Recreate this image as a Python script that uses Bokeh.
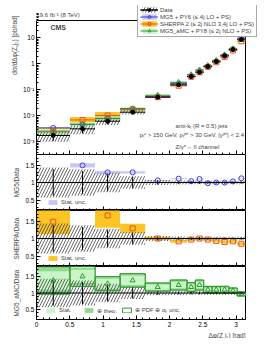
from bokeh.plotting import figure
from bokeh.layouts import column
from bokeh.models import (FixedTicker, CustomJSTickFormatter, Legend, LegendItem,
                          Title, Label, Span, Range1d)
from bokeh.embed import file_html
from bokeh.resources import INLINE

FONT = "Liberation Sans"

# ---------------- data ----------------
bin_edges = [0.0, 0.503, 0.880, 1.257, 1.634, 2.011, 2.262, 2.388, 2.513, 2.639, 2.765, 2.890, 3.016, 3.142]
data_xsec = [1.78e-3, 3.2e-3, 6.3e-3, 0.014, 0.053, 0.158, 0.33, 0.48, 0.80, 1.25, 2.07, 3.6, 8.8]
data_stat = [0.38, 0.33, 0.25, 0.17, 0.06, 0.04, 0.04, 0.04, 0.03, 0.03, 0.03, 0.03, 0.03]
data_tot = [0.43, 0.38, 0.28, 0.18, 0.07, 0.06, 0.05, 0.05, 0.05, 0.05, 0.05, 0.05, 0.05]

mg5_ratio = [1.95, 1.49, 1.29, 1.29, 1.06, 1.11, 1.04, 1.10, 0.98, 1.00, 1.00, 1.03, 1.12]
mg5_stat = [0.08, 0.06, 0.04, 0.03, 0.015, 0.015, 0.015, 0.015, 0.01, 0.01, 0.01, 0.01, 0.01]

sherpa_ratio = [1.48, 2.20, 1.66, 1.29, 1.00, 0.92, 0.97, 1.00, 0.97, 0.93, 0.90, 0.92, 0.85]
sherpa_stat = [0.36, 0.30, 0.35, 0.13, 0.05, 0.04, 0.04, 0.04, 0.04, 0.04, 0.04, 0.04, 0.04]

amc_ratio = [1.38, 1.50, 1.28, 1.38, 1.18, 1.24, 1.18, 1.24, 1.10, 1.10, 1.10, 1.07, 0.97]
amc_stat = [0.28, 0.20, 0.15, 0.14, 0.08, 0.10, 0.08, 0.10, 0.06, 0.06, 0.06, 0.05, 0.03]
amc_theo = [0.38, 0.27, 0.19, 0.18, 0.11, 0.13, 0.11, 0.13, 0.08, 0.08, 0.08, 0.07, 0.05]
amc_pdf = [0.41, 0.30, 0.21, 0.20, 0.12, 0.15, 0.13, 0.15, 0.10, 0.10, 0.10, 0.08, 0.06]

x_ticks = [0, 0.5, 1, 1.5, 2, 2.5, 3]
y_main_ticks = [1e-3, 1e-2, 1e-1, 1, 10]
y_ratio_ticks = [0.5, 1, 1.5]

# axis extents
X_MAX = 3.1416
Y_MAIN_MIN, Y_MAIN_MAX = 3.3e-4, 47.1

# colours
MG5_C, MG5_BAND = "#3a3ae6", "#c8c8f4"
SH_C, SH_BAND = "#e8541e", "#fcc526"
AMC_C, AMC_STAT, AMC_THEO = "#2e9a2e", "#c9f5c9", "#92d892"
HATCH_C = "#444444"

left = bin_edges[:-1]
right = bin_edges[1:]
mid = [(a + b) / 2 for a, b in zip(left, right)]

fmt_plain = CustomJSTickFormatter(code="return String(Math.round(tick*10)/10);")
fmt_empty = CustomJSTickFormatter(code="return '';")
fmt_log = CustomJSTickFormatter(code="""
const sup = {"-":"\u207b","0":"\u2070","1":"\u00b9","2":"\u00b2","3":"\u00b3","4":"\u2074"};
const e = Math.round(Math.log10(tick));
if (e == 0) return "1";
if (e == 1) return "10";
return "10" + String(e).split("").map(c => sup[c]).join("");
""")

HATCH = dict(fill_alpha=0, line_alpha=0, hatch_pattern="/", hatch_color=HATCH_C,
             hatch_scale=6, hatch_weight=0.8)


def style_axes(p, xlabels, ylog):
    p.xgrid.visible = False
    p.ygrid.visible = False
    p.background_fill_color = "white"
    p.border_fill_color = "white"
    for ax in p.axis:
        ax.major_tick_out = 0
        ax.major_tick_in = 4
        ax.minor_tick_out = 0
        ax.minor_tick_in = 2
        ax.axis_line_color = "black"
        ax.major_tick_line_color = "black"
        ax.minor_tick_line_color = "black"
        ax.major_label_text_font = FONT
        ax.major_label_text_font_size = "6.5px"
        ax.major_label_text_color = "black"
        ax.major_label_standoff = 2
    p.xaxis.ticker = FixedTicker(ticks=x_ticks, minor_ticks=[i / 10 for i in range(32)])
    if xlabels:
        p.xaxis.formatter = fmt_plain
    else:
        p.xaxis.formatter = fmt_empty
        p.xaxis.major_label_text_font_size = "1px"
        p.xaxis.major_label_standoff = 0
    if ylog:
        p.yaxis.ticker = FixedTicker(ticks=y_main_ticks,
                                     minor_ticks=[m * 10 ** e for e in range(-4, 2) for m in range(2, 10)])
        p.yaxis.formatter = fmt_log
    else:
        p.yaxis.ticker = FixedTicker(ticks=y_ratio_ticks, minor_ticks=[i / 10 for i in range(2, 19)])
        p.yaxis.formatter = fmt_plain


def make_ratio_fig(frame_h, bottom=0, xlabels=False):
    p = figure(frame_width=209, frame_height=frame_h,
               x_range=Range1d(0, X_MAX), y_range=Range1d(0.2, 1.8),
               output_backend="svg", toolbar_location=None,
               min_border_left=36, min_border_right=20,
               min_border_top=0, min_border_bottom=bottom)
    p.outline_line_color = "black"
    p.outline_line_width = 1
    p.outline_line_alpha = 1
    style_axes(p, xlabels, False)
    return p


def add_ylabel(p, text, align, offset=0):
    p.add_layout(Title(text=text, align=align, text_font_size="6.5px", text_font_style="normal",
                       text_font=FONT, standoff=6, offset=offset), "left")


# ---------------- main panel ----------------
# frame extended 15 px above and 13 px right of the drawn box so the legend can overlap the box edge
p0 = figure(frame_width=222, frame_height=149,
            x_range=Range1d(0, X_MAX * 222 / 209), y_range=Range1d(Y_MAIN_MIN, 177.8),
            y_axis_type="log", output_backend="svg", toolbar_location=None,
            min_border_left=36, min_border_right=0, min_border_top=5, min_border_bottom=0)
p0.outline_line_alpha = 0
style_axes(p0, False, True)
p0.xaxis.bounds = (0, X_MAX)
p0.yaxis.bounds = (Y_MAIN_MIN, Y_MAIN_MAX)
add_ylabel(p0, "d\u03c3/d\u0394\u03c6(Z,j\u2081) [pb/rad]", "right", offset=10)

# box edges (top and right)
p0.segment(x0=[0, X_MAX], x1=[X_MAX, X_MAX], y0=[Y_MAIN_MAX, Y_MAIN_MIN], y1=[Y_MAIN_MAX, Y_MAIN_MAX],
           line_color="black", line_width=1)

mg5_val = [d * r for d, r in zip(data_xsec, mg5_ratio)]
sh_val = [d * r for d, r in zip(data_xsec, sherpa_ratio)]
amc_val = [d * r for d, r in zip(data_xsec, amc_ratio)]

mg5_band_m = p0.quad(left=left, right=right, bottom=[v * (1 - s) for v, s in zip(mg5_val, mg5_stat)],
                     top=[v * (1 + s) for v, s in zip(mg5_val, mg5_stat)], fill_color=MG5_BAND, line_alpha=0)
sh_band_m = p0.quad(left=left, right=right, bottom=[v * (1 - s) for v, s in zip(sh_val, sherpa_stat)],
                    top=[v * (1 + s) for v, s in zip(sh_val, sherpa_stat)], fill_color=SH_BAND, line_alpha=0)
amc_band_m = p0.quad(left=left, right=right, bottom=[v * (1 - s) for v, s in zip(amc_val, amc_stat)],
                     top=[v * (1 + s) for v, s in zip(amc_val, amc_stat)], fill_color=AMC_STAT, line_alpha=0)
hatch_m = p0.quad(left=left, right=right, bottom=[d * (1 - t) for d, t in zip(data_xsec, data_tot)],
                  top=[d * (1 + t) for d, t in zip(data_xsec, data_tot)], **HATCH)
mg5_line = p0.segment(x0=left, x1=right, y0=mg5_val, y1=mg5_val, line_color=MG5_C, line_width=1)
sh_line = p0.segment(x0=left, x1=right, y0=sh_val, y1=sh_val, line_color=SH_C, line_width=1)
amc_line = p0.segment(x0=left, x1=right, y0=amc_val, y1=amc_val, line_color=AMC_C, line_width=1)
d_h = p0.segment(x0=left, x1=right, y0=data_xsec, y1=data_xsec, line_color="black", line_width=1)
d_v = p0.segment(x0=mid, x1=mid, y0=[d * (1 - s) for d, s in zip(data_xsec, data_stat)],
                 y1=[d * (1 + s) for d, s in zip(data_xsec, data_stat)], line_color="black", line_width=1)
mg5_mk = p0.scatter(mid, mg5_val, marker="circle", size=5, fill_alpha=0, line_color=MG5_C, line_width=1)
sh_mk = p0.scatter(mid, sh_val, marker="square", size=5, fill_alpha=0, line_color=SH_C, line_width=1)
amc_mk = p0.scatter(mid, amc_val, marker="triangle", size=5, fill_alpha=0, line_color=AMC_C, line_width=1)
d_mk = p0.scatter(mid, data_xsec, marker="circle", size=4, fill_color="black", line_color="black")

p0.add_layout(Label(x=0.0, y=80, text="19.6 fb\u207b\u00b9 (8 TeV)", text_font=FONT,
                    text_font_size="6px", text_baseline="middle"))
p0.add_layout(Label(x=0.21, y=25, text="CMS", text_font=FONT, text_font_style="bold",
                    text_font_size="7px", text_baseline="middle"))
p0.add_layout(Label(x=2.09, y=4.3e-3, text="anti-k\u209c (R = 0.5) jets", text_font=FONT,
                    text_font_size="6px", text_baseline="middle"))
p0.add_layout(Label(x=3.12, y=1.78e-3,
                    text="p\u209c\u1dbb > 150 GeV, p\u209c\u02b2\u1d49\u1d57 > 30 GeV, |y\u02b2\u1d49\u1d57| < 2.4",
                    text_font=FONT, text_font_size="6px", text_baseline="middle", text_align="right"))
p0.add_layout(Label(x=2.09, y=6.2e-4, text="Z/\u03b3*\u2192 ll channel", text_font=FONT,
                    text_font_size="6px", text_baseline="middle"))

leg0 = Legend(items=[
    LegendItem(label="Data", renderers=[hatch_m, d_h, d_v, d_mk]),
    LegendItem(label="MG5 + PY6 (\u2264 4j LO + PS)", renderers=[mg5_band_m, mg5_line, mg5_mk]),
    LegendItem(label="SHERPA 2 (\u2264 2j NLO 3,4j LO + PS)", renderers=[sh_band_m, sh_line, sh_mk]),
    LegendItem(label="MG5_aMC + PY8 (\u2264 2j NLO + PS)", renderers=[amc_band_m, amc_line, amc_mk]),
], location=(101, 117), label_text_font=FONT, label_text_font_size="6px", glyph_width=18,
    glyph_height=7, label_height=7, spacing=0, padding=2, margin=0, label_standoff=2,
    border_line_color="#555555", border_line_width=1, background_fill_color="white",
    background_fill_alpha=1)
p0.add_layout(leg0)


# ---------------- ratio panels ----------------
def ratio_data(p):
    p.quad(left=left, right=right, bottom=[1 - t for t in data_tot], top=[1 + t for t in data_tot], **HATCH)
    p.add_layout(Span(location=1, dimension="width", line_color="black", line_width=1))
    p.segment(x0=mid, x1=mid, y0=[1 - s for s in data_stat], y1=[1 + s for s in data_stat],
              line_color="black", line_width=1)


def small_legend(p, items, x, y, orientation="vertical"):
    p.add_layout(Legend(items=items, location=(x, y), orientation=orientation, label_text_font=FONT,
                        label_text_font_size="6px", glyph_width=11, glyph_height=6, label_height=6,
                        spacing=4, padding=0, margin=0, label_standoff=3, border_line_alpha=0,
                        background_fill_alpha=0))


def ratio_panel(ylabel, ratio, stat, color, band_color, marker):
    p = make_ratio_fig(56)
    add_ylabel(p, ylabel, "center")
    band = p.quad(left=left, right=right, bottom=[r - s for r, s in zip(ratio, stat)],
                  top=[r + s for r, s in zip(ratio, stat)], fill_color=band_color, line_alpha=0)
    ratio_data(p)
    p.scatter(mid, ratio, marker=marker, size=5, fill_alpha=0, line_color=color, line_width=1)
    small_legend(p, [LegendItem(label="Stat. unc.", renderers=[band])], 11, 5)
    return p


p1 = ratio_panel("MG5/Data", mg5_ratio, mg5_stat, MG5_C, MG5_BAND, "circle")
p2 = ratio_panel("SHERPA/Data", sherpa_ratio, sherpa_stat, SH_C, SH_BAND, "square")

p3 = make_ratio_fig(53, bottom=2, xlabels=True)
add_ylabel(p3, "MG5_aMC/Data", "center")
pdf_r = p3.quad(left=left, right=right, bottom=[r - s for r, s in zip(amc_ratio, amc_pdf)],
                top=[r + s for r, s in zip(amc_ratio, amc_pdf)], fill_color="white", fill_alpha=0,
                line_color=AMC_C, line_width=1)
theo_r = p3.quad(left=left, right=right, bottom=[r - s for r, s in zip(amc_ratio, amc_theo)],
                 top=[r + s for r, s in zip(amc_ratio, amc_theo)], fill_color=AMC_THEO, line_alpha=0)
stat_r = p3.quad(left=left, right=right, bottom=[r - s for r, s in zip(amc_ratio, amc_stat)],
                 top=[r + s for r, s in zip(amc_ratio, amc_stat)], fill_color=AMC_STAT, line_alpha=0)
ratio_data(p3)
p3.quad(left=left, right=right, bottom=[r - s for r, s in zip(amc_ratio, amc_pdf)],
        top=[r + s for r, s in zip(amc_ratio, amc_pdf)], fill_alpha=0, line_color=AMC_C, line_width=1)
p3.scatter(mid, amc_ratio, marker="triangle", size=5, fill_alpha=0, line_color=AMC_C, line_width=1)
small_legend(p3, [LegendItem(label="Stat.", renderers=[stat_r]),
                  LegendItem(label="\u2295 theo.", renderers=[theo_r]),
                  LegendItem(label="\u2295 PDF \u2295 \u03b1\u209b unc.", renderers=[pdf_r])],
             9, 5, orientation="horizontal")
p3.add_layout(Title(text="\u0394\u03c6(Z,j\u2081) [rad]", align="right", text_font_size="6.5px",
                    text_font_style="normal", text_font=FONT, standoff=0), "below")

layout = column(p0, p1, p2, p3, spacing=0)
open("out.html", "w").write(file_html(layout, INLINE))
